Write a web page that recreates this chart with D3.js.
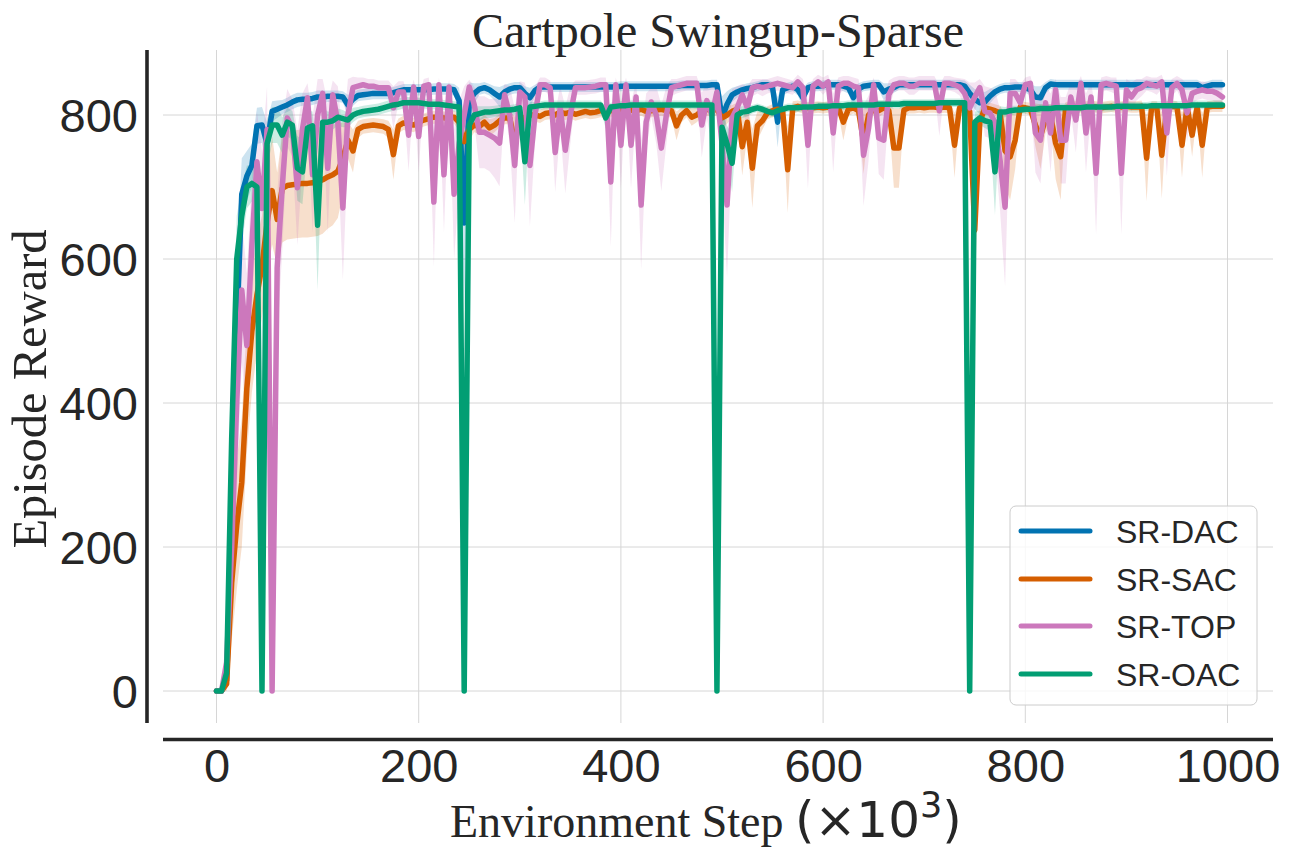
<!DOCTYPE html>
<html>
<head>
<meta charset="utf-8">
<script src="https://cdn.jsdelivr.net/npm/d3@7/dist/d3.min.js"></script>
<style>
html,body{margin:0;padding:0;background:#fff;}
svg{display:block;}
</style>
</head>
<body>
<svg id="chart" width="1296" height="864"></svg>
<script>
// ---------- DATA ----------
const seriesNames = ["SR-DAC", "SR-SAC", "SR-TOP", "SR-OAC"];
const xTicks = [0, 200, 400, 600, 800, 1000];
const yTicks = [0, 200, 400, 600, 800];
const steps = d3.range(0, 1000, 5); // evaluation steps (x10^3)

const dac = [
0,0,15,200,500,690,715,730,785,786,
760,805,808,811,814,818,821,822,822,823,
825,825,826,826,826,825,814,822,827,828,
829,830,830,830,830,831,833,835,835,835,
835,835,835,836,836,836,836,835,820,650,
820,830,836,838,835,830,825,832,836,838,
838,830,824,834,839,839,839,839,839,839,
839,839,839,839,839,839,839,839,839,839,
840,840,840,840,840,840,840,840,840,840,
840,840,841,841,841,841,841,841,842,842,
796,815,828,832,835,837,838,840,842,842,
838,790,835,838,840,835,824,838,840,840,
841,842,842,842,840,838,824,836,840,841,
842,842,832,836,838,842,842,842,842,842,
842,842,842,842,842,842,842,842,840,830,
822,817,818,826,832,836,838,838,839,839,
838,835,825,824,838,843,842,842,842,842,
842,842,842,842,842,842,842,842,842,842,
842,842,842,842,842,842,842,842,842,842,
842,842,842,842,842,838,840,842,842,842];
const dacSpread = [
0,0,10,80,100,50,35,30,25,25,
30,14,12,10,10,10,10,9,9,9,
9,9,8,8,8,8,14,9,8,8,
8,8,8,8,8,8,8,8,8,8,
8,8,8,8,8,8,8,8,18,120,
25,14,8,8,8,10,14,10,8,8,
8,10,14,8,7,7,7,7,7,7,
7,7,7,7,7,7,7,7,7,7,
7,7,7,7,7,7,7,7,7,7,
7,7,7,7,7,7,7,7,7,7,
30,18,10,8,7,7,7,7,7,7,
8,35,8,7,7,8,14,7,7,7,
7,7,7,7,7,8,14,8,7,7,
7,7,12,8,7,7,7,7,7,7,
7,7,7,7,7,7,7,7,8,12,
14,16,14,10,8,7,7,7,7,7,
7,8,15,16,8,7,7,7,7,7,
7,7,7,7,7,7,7,7,7,7,
7,7,7,7,7,7,7,7,7,7,
7,7,7,7,7,7,7,7,7,7];

const sac = [
0,0,10,150,230,290,420,500,550,590,
650,695,655,698,702,703,704,705,705,706,
707,710,714,717,722,740,765,750,780,784,
785,786,785,784,780,745,785,789,788,786,
790,793,795,797,797,796,796,797,790,763,
780,786,784,790,782,786,792,796,796,763,
790,797,800,800,798,802,803,800,804,802,
804,801,803,805,803,804,806,804,806,807,
806,805,807,806,808,805,806,807,808,806,
806,785,800,806,797,800,806,808,807,808,
796,800,805,808,756,790,726,785,792,803,
806,808,806,724,810,812,810,810,810,811,
810,811,810,811,790,808,810,806,763,800,
808,806,810,806,754,754,807,810,810,811,
810,811,811,810,811,810,758,810,812,805,
640,790,810,808,806,803,750,742,765,811,
810,808,786,770,795,800,761,742,810,811,
811,810,811,812,811,810,811,812,811,811,
812,811,811,812,740,811,811,744,811,812,
811,758,811,772,811,758,811,812,812,812];
const sacSpread = [
0,0,10,80,90,90,90,85,80,70,
75,75,65,75,75,75,75,75,75,75,
75,75,72,70,65,50,25,30,12,10,
10,10,10,10,12,35,10,10,10,10,
9,9,9,9,9,9,9,9,12,30,
15,10,10,10,12,10,9,9,9,35,
12,9,9,9,9,9,9,9,9,9,
9,9,9,9,9,9,9,9,9,9,
9,9,9,9,9,9,9,9,9,9,
9,20,10,9,12,10,9,9,9,9,
15,12,9,9,40,20,55,20,12,9,
9,9,9,60,9,8,8,8,8,8,
8,8,8,8,25,9,8,9,45,15,
8,9,8,9,55,55,9,8,8,8,
8,8,8,8,8,8,45,8,8,10,
90,20,8,9,9,10,50,60,40,8,
8,9,30,45,20,15,50,60,8,8,
8,8,8,8,8,8,8,8,8,8,
8,8,8,8,60,8,8,60,8,8,
8,45,8,30,8,45,8,8,8,8];

const topv = [
0,0,40,200,400,557,480,620,735,670,
780,0,588,700,796,782,699,780,824,717,
800,830,726,828,790,671,800,838,840,842,
840,840,838,838,838,810,832,832,772,839,
770,840,842,679,842,717,839,690,760,800,
839,814,776,776,772,768,761,828,800,730,
832,825,730,800,842,842,838,748,810,751,
800,838,838,838,839,840,842,842,707,842,
758,842,758,825,675,790,818,800,754,800,
838,840,842,844,844,844,786,820,800,832,
760,675,796,810,828,810,838,840,838,840,
842,844,842,840,838,846,838,758,840,846,
840,846,775,840,844,844,840,838,744,782,
842,768,765,828,842,844,844,840,840,844,
844,844,844,806,844,844,842,839,830,810,
825,838,805,803,790,738,672,830,830,817,
842,844,775,765,817,775,835,765,765,825,
793,844,775,825,719,842,844,842,840,719,
835,825,835,838,844,842,840,846,775,838,
844,835,803,830,833,835,833,833,830,825];
const topSpread = [
0,0,30,100,120,100,100,90,70,80,
60,0,100,90,40,40,80,50,20,80,
50,20,90,20,50,100,50,15,12,10,
10,10,10,10,10,30,15,15,50,10,
50,10,10,90,10,80,10,90,60,40,
10,25,50,50,50,55,60,15,40,80,
15,20,85,40,10,10,10,55,30,60,
40,10,10,10,10,10,10,10,90,10,
60,10,60,20,90,40,20,40,60,40,
12,10,10,10,10,10,45,25,40,15,
55,100,40,30,15,30,12,10,12,10,
10,10,10,10,10,10,12,60,10,10,
12,10,55,12,10,10,12,12,70,45,
10,50,55,20,10,10,10,12,12,10,
10,10,10,35,10,10,10,12,20,35,
20,12,35,35,45,70,110,20,20,25,
10,10,55,60,25,55,15,60,60,20,
45,10,55,20,85,10,10,10,12,85,
15,20,15,12,10,10,12,10,60,12,
10,15,40,15,12,12,12,12,15,15];

const oac = [
0,0,25,350,600,660,700,705,700,0,
760,786,786,772,790,786,726,721,782,785,
647,790,790,792,797,795,793,800,803,805,
806,807,808,810,812,814,815,817,817,817,
817,816,815,815,815,814,813,812,811,0,
786,800,802,804,804,805,806,807,807,808,
810,735,811,812,813,814,814,814,814,814,
814,814,814,814,814,814,814,796,811,812,
813,813,814,814,814,814,814,814,814,814,
814,814,814,814,814,814,814,814,814,0,
783,760,733,800,804,805,808,810,808,805,
803,806,808,810,810,810,811,811,811,812,
812,812,813,813,813,814,814,814,814,814,
814,815,815,815,815,815,816,816,816,816,
816,816,816,817,817,817,817,817,817,0,
790,796,792,790,721,804,804,806,807,807,
808,808,808,809,809,809,810,810,810,810,
810,810,811,811,811,811,811,811,812,812,
812,812,812,812,812,813,813,813,813,813,
813,813,813,814,814,814,814,814,814,814];
const oacSpread = [
0,0,10,70,60,40,30,25,20,0,
35,25,25,25,20,20,45,45,25,20,
90,20,15,12,12,12,10,10,8,8,
8,8,8,8,8,8,8,8,8,8,
7,7,7,7,7,7,7,7,7,0,
25,12,10,8,8,8,8,7,7,7,
7,60,7,6,6,6,6,6,6,6,
6,6,6,6,6,6,6,15,6,6,
6,6,6,6,6,6,6,6,6,6,
6,6,6,6,6,6,6,6,6,0,
20,25,40,10,8,7,6,6,6,6,
6,6,6,6,6,6,6,6,6,6,
6,6,6,6,6,6,6,6,6,6,
6,6,6,6,6,6,6,6,6,6,
6,6,6,6,6,6,6,6,6,0,
15,10,10,12,60,8,7,7,6,6,
6,6,6,6,6,6,6,6,6,6,
6,6,6,6,6,6,6,6,6,6,
6,6,6,6,6,6,6,6,6,6,
6,6,6,6,6,6,6,6,6,6];

const colors = ["#0173b2", "#d55e00", "#cc78bc", "#029e73"];
const means = [dac, sac, topv, oac];
const spreads = [dacSpread, sacSpread, topSpread, oacSpread];

// ---------- LAYOUT ----------
const svg = d3.select("#chart");
const ax = {left: 163, right: 1273, top: 50, bottom: 723};
const x = d3.scaleLinear().domain([0, 1000]).range([216.5, 1227.5]);
const y = d3.scaleLinear().domain([0, 800]).range([691, 115]);
const ink = "#262626";
const sans = "'Liberation Sans', Arial, sans-serif";
const serif = "'Liberation Serif', 'Times New Roman', serif";

// grid
const grid = svg.append("g");
grid.selectAll("line.vx").data(xTicks).join("line")
  .attr("x1", d => x(d)).attr("x2", d => x(d))
  .attr("y1", ax.top).attr("y2", ax.bottom)
  .attr("stroke", "#d6d6d6").attr("stroke-width", 1);
grid.selectAll("line.hy").data(yTicks).join("line")
  .attr("x1", ax.left).attr("x2", ax.right)
  .attr("y1", d => y(d)).attr("y2", d => y(d))
  .attr("stroke", "#d6d6d6").attr("stroke-width", 1);

// series
const plot = svg.append("g");
means.forEach((m, si) => {
  const s = spreads[si];
  const rows = steps.map((st, i) => ({x: st, m: m[i], s: s[i]}));
  const area = d3.area()
    .x(d => x(d.x))
    .y0(d => y(d.m - d.s))
    .y1(d => y(d.m + d.s));
  plot.append("path").datum(rows)
    .attr("d", area)
    .attr("fill", colors[si]).attr("fill-opacity", 0.2).attr("stroke", "none");
});
means.forEach((m, si) => {
  const rows = steps.map((st, i) => ({x: st, m: m[i]}));
  const line = d3.line().x(d => x(d.x)).y(d => y(d.m));
  plot.append("path").datum(rows)
    .attr("d", line)
    .attr("fill", "none").attr("stroke", colors[si])
    .attr("stroke-width", 5.5).attr("stroke-linejoin", "round").attr("stroke-linecap", "round");
});

// axes (offset spines, despined)
const xAxis = d3.axisBottom(x).tickValues(xTicks).tickFormat(d3.format("d")).tickSize(0).tickPadding(0);
const gx = svg.append("g").attr("transform", `translate(0,739.5)`).call(xAxis);
gx.select(".domain").remove();
gx.selectAll("text").attr("font-family", sans).attr("font-size", 47)
  .attr("fill", ink).attr("dy", null).attr("y", 42.5);
svg.append("line").attr("x1", ax.left).attr("x2", ax.right)
  .attr("y1", 739.5).attr("y2", 739.5).attr("stroke", ink).attr("stroke-width", 3.6);

const yAxis = d3.axisLeft(y).tickValues(yTicks).tickFormat(d3.format("d")).tickSize(0).tickPadding(0);
const gy = svg.append("g").attr("transform", `translate(147,0)`).call(yAxis);
gy.select(".domain").remove();
gy.selectAll("text").attr("font-family", sans).attr("font-size", 47)
  .attr("fill", ink).attr("x", -9).attr("dy", "0.36em");
svg.append("line").attr("x1", 147).attr("x2", 147)
  .attr("y1", ax.top).attr("y2", ax.bottom).attr("stroke", ink).attr("stroke-width", 3.6);

// title & labels
svg.append("text").attr("x", 718).attr("y", 47).attr("text-anchor", "middle")
  .attr("font-family", serif).attr("font-size", 48).attr("fill", ink)
  .text("Cartpole Swingup-Sparse");

svg.append("text").attr("transform", "translate(46,389) rotate(-90)")
  .attr("text-anchor", "middle").attr("font-family", serif).attr("font-size", 48.5)
  .attr("fill", ink).text("Episode Reward");

const xl = svg.append("text").attr("x", 450).attr("y", 837).attr("text-anchor", "start")
  .attr("fill", ink);
xl.append("tspan").attr("font-family", serif).attr("font-size", 46).text("Environment Step ");
xl.append("tspan").attr("font-family", "'DejaVu Sans', sans-serif").attr("font-size", 50).text("(×10");
xl.append("tspan").attr("font-family", "'DejaVu Sans', sans-serif").attr("font-size", 35)
  .attr("dy", -20).text("3");
xl.append("tspan").attr("font-family", "'DejaVu Sans', sans-serif").attr("font-size", 50)
  .attr("dy", 20).text(")");

// legend
const lg = svg.append("g");
lg.append("rect").attr("x", 1010).attr("y", 506).attr("width", 247).attr("height", 199)
  .attr("rx", 6).attr("fill", "#fff").attr("fill-opacity", 0.8)
  .attr("stroke", "#cccccc").attr("stroke-width", 1);
const legY = [531, 579, 626, 674];
seriesNames.forEach((n, i) => {
  lg.append("line").attr("x1", 1021).attr("x2", 1090).attr("y1", legY[i]).attr("y2", legY[i])
    .attr("stroke", colors[i]).attr("stroke-width", 5).attr("stroke-linecap", "round");
  lg.append("text").attr("x", 1116).attr("y", legY[i] + 11.5)
    .attr("font-family", sans).attr("font-size", 32).attr("fill", ink).text(n);
});
</script>
</body>
</html>
